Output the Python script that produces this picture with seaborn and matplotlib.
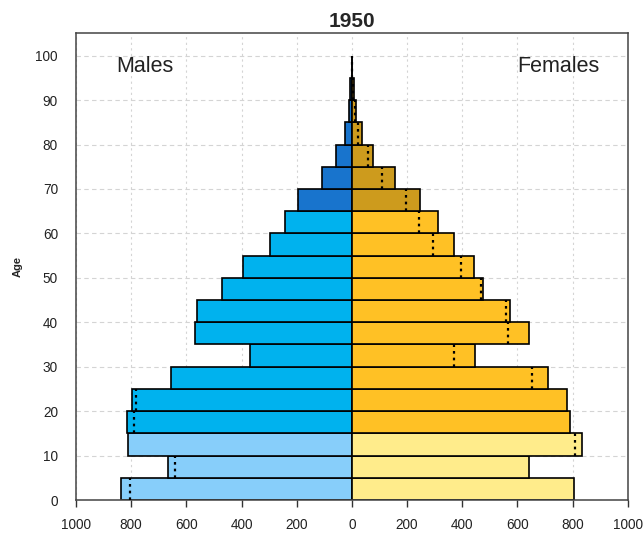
import numpy as np
import pandas as pd
import seaborn as sns
import matplotlib.pyplot as plt

# 5-year age groups, start of each group
age_start = [0, 5, 10, 15, 20, 25, 30, 35, 40, 45, 50, 55, 60, 65, 70, 75, 80, 85, 90, 95]
males = [838, 665, 810, 814, 797, 654, 370, 567, 560, 470, 396, 295, 242, 196, 110, 57, 24, 11, 5, 1]
females = [805, 642, 834, 791, 781, 710, 445, 643, 573, 476, 444, 371, 311, 248, 155, 75, 36, 14, 8, 2]
x_ticks = [-1000, -800, -600, -400, -200, 0, 200, 400, 600, 800, 1000]
y_ticks = [0, 10, 20, 30, 40, 50, 60, 70, 80, 90, 100]

male_colors = {"young": "#87CEFA", "work": "#00B2EE", "old": "#1874CD"}
female_colors = {"young": "#FFEC8B", "work": "#FFC125", "old": "#CD9B1D"}

df = pd.DataFrame({"age": age_start, "Males": males, "Females": females})
df["mid"] = df["age"] + 2.5
df["group"] = np.where(df["age"] < 15, "young", np.where(df["age"] < 65, "work", "old"))
df["neg_males"] = -df["Males"]

sns.set_style("white")
plt.rcParams["font.family"] = ["Liberation Sans", "DejaVu Sans"]
fig = plt.figure(figsize=(6.43, 5.34), dpi=100)
ax = fig.add_axes([76 / 643, 1 - 500 / 534, (627.7 - 76) / 643, (500 - 33) / 534])

# grid first so bars sit on top
for v in x_ticks:
    ax.axvline(v, color="#d4d4d4", lw=0.8, ls=(0, (2, 3)), zorder=0)
for h in y_ticks:
    ax.axhline(h, color="#d4d4d4", lw=0.8, ls=(0, (4, 3)), zorder=0)

sns.barplot(data=df, x="neg_males", y="mid", hue="group", palette=male_colors,
            orient="h", native_scale=True, width=1, dodge=False, errorbar=None,
            saturation=1, edgecolor="black", linewidth=1.2, legend=False, ax=ax, zorder=2)
sns.barplot(data=df, x="Females", y="mid", hue="group", palette=female_colors,
            orient="h", native_scale=True, width=1, dodge=False, errorbar=None,
            saturation=1, edgecolor="black", linewidth=1.2, legend=False, ax=ax, zorder=2)

# dotted marks: the smaller sex mirrored onto the larger side
for a, m, f in zip(age_start, males, females):
    if f < m:
        ax.vlines(-f, a, a + 5, colors="black", lw=1.6, ls=(0, (1.2, 1.8)), zorder=3)
    else:
        ax.vlines(m, a, a + 5, colors="black", lw=1.6, ls=(0, (1.2, 1.8)), zorder=3)

ax.set_xlim(-1000, 1000)
ax.set_ylim(0, 105.1)
ax.set_xticks(x_ticks)
ax.set_xticklabels([str(abs(t)) for t in x_ticks])
ax.set_yticks(y_ticks)
ax.set_yticklabels([str(t) for t in y_ticks])
ax.tick_params(axis="x", labelsize=9.8, labelcolor="#222222", length=5, width=1,
               color="#333333", direction="out", bottom=True, pad=8)
ax.tick_params(axis="y", labelsize=9.8, labelcolor="#222222", length=0, pad=13)
ax.set_xlabel("")
ax.set_ylabel("Age", fontsize=8, fontweight="bold", labelpad=9)
for s in ax.spines.values():
    s.set_color("#444444")
    s.set_linewidth(1.1)

ax.text(-750, 97.5, "Males", fontsize=15.5, color="#222222", ha="center", va="center")
ax.text(750, 97.5, "Females", fontsize=15.5, color="#222222", ha="center", va="center")
ax.set_title("1950", fontsize=15, fontweight="bold", pad=4)

fig.savefig("out.png", dpi=100)
